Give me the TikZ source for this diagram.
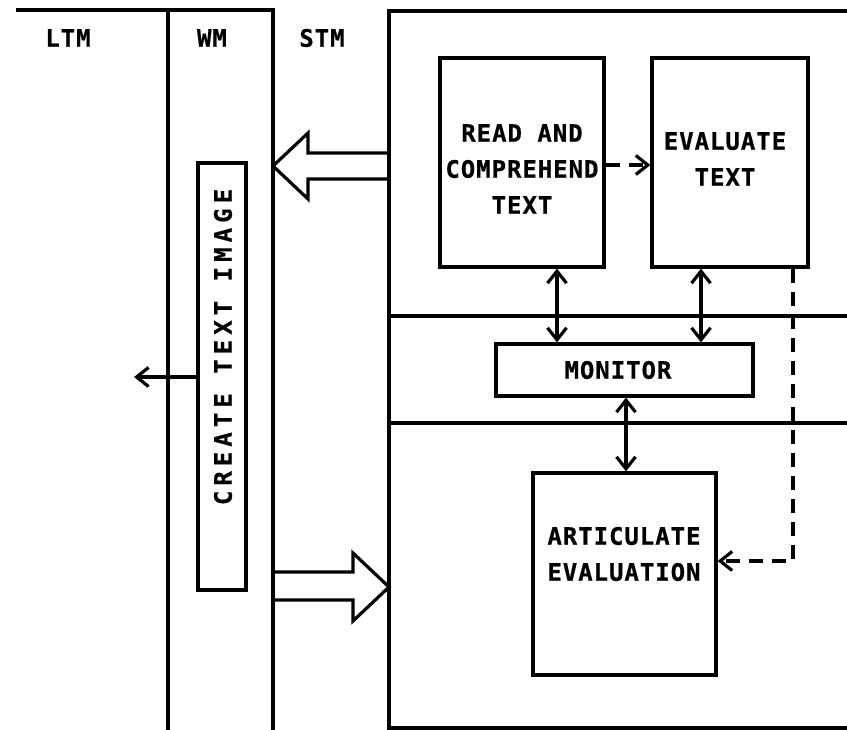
\documentclass[tikz,border=0pt]{standalone}
\usepackage{fontspec}
\setmonofont{DejaVu Sans Mono}
\newfontfamily\letterfont[LetterSpace=4,FakeBold=0.6]{DejaVu Sans Mono Bold}
\newfontfamily\widefont[LetterSpace=21,FakeBold=0.6]{DejaVu Sans Mono Bold}
\usetikzlibrary{arrows.meta}
\begin{document}
\begin{tikzpicture}[x=1pt,y=-1pt,
  rule/.style={line width=3.2pt, line cap=rect},
  procbox/.style={draw, line width=3.2pt, inner sep=0pt},
  lettering/.style={font={\letterfont\fontsize{24}{36}\selectfont}, align=center, inner sep=0pt},
  heading/.style={font={\letterfont\fontsize{24}{26}\selectfont}, inner sep=0pt},
  link/.style={line width=3.2pt, {Straight Barb[length=12pt,width=19pt]}-{Straight Barb[length=12pt,width=19pt]}},
  dashlink/.style={line width=3.2pt, dash pattern=on 14pt off 9pt, -{Straight Barb[length=12pt,width=19pt]}},
  solidlink/.style={line width=3.2pt, -{Straight Barb[length=12pt,width=19pt]}},
  bigarrow/.style={draw, line width=3.2pt, line join=miter}]
\useasboundingbox (0,0) rectangle (847,730);

% memory columns
\draw[rule] (18,10) -- (273,10);
\draw[rule] (168,10) -- (168,735);
\draw[rule] (273,10) -- (273,735);
\draw[rule] (389,735) -- (389,11) -- (850,11);
\draw[rule] (389,728) -- (850,728);
\draw[rule] (389,316) -- (850,316);
\draw[rule] (389,423) -- (850,423);

% column headings
\node[heading] (ltm) at (68,38) {LTM};
\node[heading] (wm) at (212,38) {WM};
\node[heading] (stm) at (322,38) {STM};

% process boxes
\node[procbox, minimum width=164pt, minimum height=209pt] (read) at (522,162.5) {};
\node[lettering] (readtext) at (522,169) {READ AND\\COMPREHEND\\TEXT};
\node[procbox, minimum width=156pt, minimum height=209pt] (eval) at (730,162.5) {};
\node[lettering] (evaltext) at (725,159) {EVALUATE\\TEXT};
\node[procbox, minimum width=257pt, minimum height=52pt] (monitor) at (624.5,370) {};
\node[lettering] (montext) at (618,370) {MONITOR};
\node[procbox, minimum width=183pt, minimum height=202pt] (artic) at (624.5,574) {};
\node[lettering] (artictext) at (624,554) {ARTICULATE\\EVALUATION};
\node[procbox, minimum width=48pt, minimum height=427pt] (image) at (222,376.5) {};
\node[lettering, font={\widefont\fontsize{24}{26}\selectfont}, rotate=90] (imagetext) at (223,347) {CREATE TEXT IMAGE};

% connectors
\coordinate (rm) at (557,0);
\coordinate (em) at (701,0);
\coordinate (ma) at (626,0);
\draw[link] (read.south -| rm) -- (monitor.north -| rm);
\draw[link] (eval.south -| em) -- (monitor.north -| em);
\draw[link] (monitor.south -| ma) -- (artic.north -| ma);
\coordinate (re) at (0,165);
\draw[dashlink] (read.east |- re) -- (eval.west |- re);
\coordinate (dc) at (793,561);
\draw[dashlink] (eval.south -| dc) -- (dc) -- (artic.east |- dc);
\coordinate (ltmend) at (134,377);
\draw[solidlink] (image.west |- ltmend) -- (ltmend);

% transfer arrows between stores
\draw[bigarrow] (389,153) -- (308,153) -- (308,133) -- (273,166) -- (308,199) -- (308,179) -- (389,179);
\draw[bigarrow] (273,572) -- (353,572) -- (353,553) -- (389,587) -- (353,621) -- (353,600) -- (273,600);
\end{tikzpicture}
\end{document}
